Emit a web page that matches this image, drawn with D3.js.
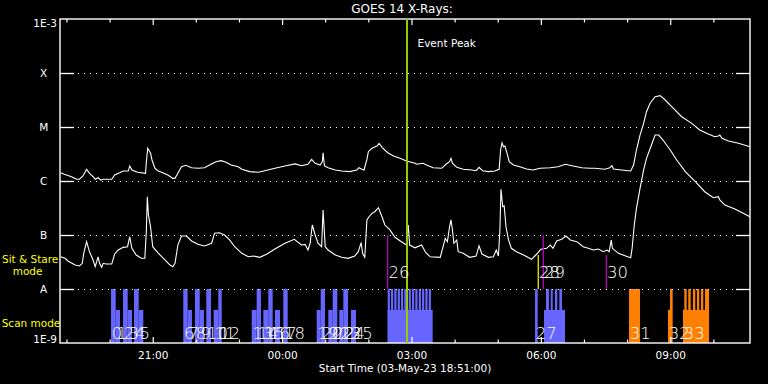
<!DOCTYPE html>
<html><head><meta charset="utf-8">
<script src="https://cdn.jsdelivr.net/npm/d3@7"></script>
<style>
body{margin:0;background:#000;}
svg{display:block;background:#000;}
text{font-family:"DejaVu Sans",sans-serif;}
</style>
</head><body>
<svg id="c" width="768" height="384"></svg>
<script>
// ---------------- DATA ----------------
const startTime = "2023-05-03T18:51:00Z";
const durationMin = 960;
const titleText = "GOES 14 X-Rays:";
const xTitle = "Start Time (03-May-23 18:51:00)";
const levelValues = [1e-9, 1e-8, 1e-7, 1e-6, 1e-5, 1e-4, 1e-3];
const levelLabels = ["1E-9", "A", "B", "C", "M", "X", "1E-3"];
const tickLabels = ["21:00", "00:00", "03:00", "06:00", "09:00"];

// Long channel (1-8 A), minutes after start / flux W m^-2
const longTime = [1,6,16,23,27,32,37,41,46,49,53,57,60,64,72,76,83,88,95,97,100,108,119,120,122,126,128,132,136,143,150,157,160,164,169,175,183,192,201,210,217,224,231,238,248,253,264,276,285,299,313,327,336,345,350,355,362,365,366,368,373,383,392,403,413,416,420,423,427,429,434,441,444,448,456,464,473,482,494,496,505,510,519,531,537,542,544,546,552,561,573,579,583,588,596,605,611,613,615,617,619,622,625,631,640,649,658,668,682,693,703,714,726,737,744,758,765,768,770,781,794,798,802,807,812,816,821,828,835,842,851,865,879,890,902,911,916,918,921,930,944,960];
const longFlux = [1.42e-6,1.33e-6,1.20e-6,1.08e-6,1.08e-6,1.24e-6,1.65e-6,1.39e-6,1.20e-6,1.08e-6,1.15e-6,1.04e-6,1.08e-6,1.08e-6,1.08e-6,1.29e-6,1.42e-6,1.53e-6,1.53e-6,1.90e-6,1.60e-6,1.45e-6,1.39e-6,2.13e-6,4.03e-6,3.26e-6,2.45e-6,1.72e-6,1.55e-6,1.42e-6,1.29e-6,1.12e-6,1.12e-6,1.39e-6,1.84e-6,1.95e-6,1.76e-6,1.72e-6,1.76e-6,2.04e-6,2.28e-6,2.38e-6,2.22e-6,1.98e-6,1.84e-6,1.65e-6,1.49e-6,1.45e-6,1.55e-6,1.72e-6,1.90e-6,2.07e-6,1.92e-6,2.04e-6,2.52e-6,2.13e-6,1.98e-6,2.28e-6,3.34e-6,1.90e-6,1.76e-6,1.60e-6,1.53e-6,1.49e-6,1.60e-6,1.76e-6,1.65e-6,1.60e-6,2.52e-6,3.49e-6,4.03e-6,4.45e-6,4.99e-6,4.21e-6,3.34e-6,2.90e-6,2.63e-6,2.35e-6,2.13e-6,2.04e-6,2.13e-6,1.98e-6,1.76e-6,1.72e-6,2.04e-6,2.28e-6,2.63e-6,2.13e-6,1.79e-6,1.65e-6,1.60e-6,1.55e-6,1.79e-6,1.55e-6,1.49e-6,1.53e-6,1.65e-6,3.75e-6,5.12e-6,4.31e-6,4.45e-6,3.26e-6,2.28e-6,1.98e-6,1.84e-6,1.67e-6,1.60e-6,1.72e-6,1.76e-6,1.84e-6,2.04e-6,1.90e-6,1.76e-6,1.72e-6,1.72e-6,1.65e-6,1.76e-6,1.92e-6,1.67e-6,1.60e-6,1.53e-6,1.98e-6,3.75e-6,7.10e-6,1.17e-5,1.92e-5,2.75e-5,3.64e-5,3.80e-5,3.16e-5,2.38e-5,1.55e-5,1.17e-5,8.81e-6,7.42e-6,6.61e-6,6.81e-6,7.10e-6,6.16e-6,5.50e-6,4.99e-6,4.31e-6];

// Short channel (0.5-4 A)
const shortTime = [1,7,11,21,27,31,33,37,41,46,49,53,55,58,60,64,72,76,81,88,94,97,100,106,113,118,120,121.5,123,126,129,136,146,153,157,160,164,169,176,183,192,201,211,215,222,229,236,243,253,262,269,278,288,299,313,326,336,341,345,348,351,355,359,364,366,369,373,383,392,401,410,415,419,421,424,427,430,434,438,443,448,452,459,466,475,482,484.5,486.5,494,503,509,515,529,533,536,539,542,544,546,548,552,554,561,570,579,583,587,596,603,607,610,612,613.5,616,618,620.5,624,628,635,645,656,662,669,677,682,686,691,698,704,710,719,728,735,742,749,756,761,764,767,768.5,777,786,794,796,799,802,807,812,816,822,828,833,839,849,858,870,884,897,909,916,918,925,939,958,960];
const shortFlux = [3.95e-8,3.70e-8,3.30e-8,2.78e-8,2.67e-8,2.99e-8,4.58e-8,7.52e-8,4.91e-8,3.45e-8,2.59e-8,3.95e-8,2.99e-8,2.52e-8,2.99e-8,2.90e-8,2.90e-8,4.45e-8,5.27e-8,5.91e-8,6.07e-8,9.29e-8,5.67e-8,4.26e-8,3.70e-8,3.70e-8,1.08e-7,5.12e-7,2.35e-7,1.42e-7,6.07e-8,4.70e-8,3.45e-8,2.78e-8,2.59e-8,2.99e-8,6.52e-8,9.58e-8,9.58e-8,7.74e-8,6.71e-8,6.25e-8,7.03e-8,1.08e-7,1.10e-7,1.00e-7,8.09e-8,6.07e-8,4.58e-8,3.95e-8,4.08e-8,3.86e-8,4.45e-8,5.50e-8,7.03e-8,8.33e-8,6.52e-8,6.71e-8,5.27e-8,7.03e-8,1.53e-7,1.00e-7,7.03e-8,6.07e-8,2.90e-7,6.07e-8,5.27e-8,4.26e-8,3.86e-8,3.70e-8,4.08e-8,4.91e-8,7.22e-8,4.58e-8,3.86e-8,1.90e-7,2.18e-7,2.52e-7,2.70e-7,3.20e-7,2.18e-7,1.53e-7,1.24e-7,9.06e-8,7.52e-8,6.52e-8,1.53e-7,6.52e-8,5.80e-8,6.52e-8,4.70e-8,3.95e-8,3.86e-8,6.07e-8,8.68e-8,7.52e-8,1.42e-7,1.90e-7,1.24e-7,7.03e-8,8.09e-8,4.91e-8,4.58e-8,3.86e-8,4.08e-8,6.33e-8,4.45e-8,3.86e-8,3.95e-8,5.27e-8,4.08e-8,1.24e-7,7.03e-7,3.34e-7,3.45e-7,1.42e-7,8.09e-8,5.67e-8,4.91e-8,4.26e-8,3.55e-8,4.26e-8,5.44e-8,5.67e-8,6.52e-8,5.67e-8,7.74e-8,8.33e-8,9.58e-8,8.09e-8,7.52e-8,6.07e-8,5.67e-8,5.27e-8,5.50e-8,4.91e-8,5.27e-8,4.91e-8,8.09e-8,5.67e-8,4.58e-8,4.14e-8,3.80e-8,5.67e-8,1.53e-7,3.12e-7,7.33e-7,1.60e-6,2.63e-6,4.31e-6,7.10e-6,7.10e-6,5.74e-6,3.75e-6,2.45e-6,1.49e-6,9.70e-7,6.33e-7,4.91e-7,5.12e-7,4.45e-7,3.59e-7,3.03e-7,2.25e-7,2.16e-7];

// Scan-mode observation bars: start/end minutes, top (flux level), set (0 = first block, 1 = second)
const scanStart = [71.0,77.5,87.7,94.2,103.0,109.5, 171.5,177.6,187.8,194.4,203.5,213.8,220.2, 266.7,273.6,282.9,289.8,299.1,310.7, 357.1,362.7,373.3,379.4,388.6,394.2,404.9,
  455.9,455.9,460.5,465.1,469.8,474.4,479.0,485.1,489.7,494.3,499.1,503.7,508.3,513.0,
  660.9,673.4,676.2,682.7,688.7,694.7,
  791.7,845.9,848.7,866.8,868.6,874.1,880.7,886.2,891.8,897.4];
const scanEnd = [77.5,83.5,94.2,100.2,109.5,115.9, 177.6,183.6,194.4,200.3,210.1,220.2,225.0, 273.6,279.6,289.8,295.9,306.1,316.8, 362.7,368.7,379.4,385.8,394.2,400.7,411.8,
  518.5,459.0,463.6,468.2,472.9,477.5,482.1,488.2,492.8,497.4,502.2,506.8,511.4,516.1,
  664.6,702.6,680.3,685.5,691.9,698.4,
  807.0,848.7,852.4,903.0,871.9,877.5,883.9,889.4,895.0,903.0];
const scanTop = [1e-8,4.1e-9,1e-8,4.1e-9,1e-8,4.1e-9, 1e-8,4.1e-9,1e-8,4.1e-9,1e-8,4.1e-9,1e-8, 4.1e-9,1e-8,4.1e-9,1e-8,4.1e-9,1e-8, 4.1e-9,1e-8,4.1e-9,1e-8,4.1e-9,1e-8,4.1e-9,
  4.1e-9,1e-8,1e-8,1e-8,1e-8,1e-8,1e-8,1e-8,1e-8,1e-8,1e-8,1e-8,1e-8,1e-8,
  1e-8,4.1e-9,1e-8,1e-8,1e-8,1e-8,
  1e-8,4.1e-9,1e-8,4.1e-9,1e-8,1e-8,1e-8,1e-8,1e-8,1e-8];
const scanSet = [0,0,0,0,0,0, 0,0,0,0,0,0,0, 0,0,0,0,0,0, 0,0,0,0,0,0,0,
  0,0,0,0,0,0,0,0,0,0,0,0,0,0,
  0,0,0,0,0,0,
  1,1,1,1,1,1,1,1,1,1];

// Scan observation numbers and their start minutes
const scanNum = ["0","1","2","3","4","5","6","7","8","9","10","11","12","13","14","15","16","17","18","19","20","21","22","23","24","25","27","31","32","33"];
const scanNumTime = [71.0,77.5,87.7,94.2,103.0,109.5,171.5,177.6,187.8,194.4,203.5,213.8,220.2,266.7,273.6,282.9,289.8,299.1,310.7,357.1,362.7,373.3,379.4,388.6,394.2,404.9,660.9,791.7,845.9,866.8];

// Sit & Stare observations
const ssNum = ["26","28","29","30"];
const ssTime = [455.9,665.4,672.4,760.1];
const ssTop = [1e-7,4.26e-8,1e-7,4.26e-8];
const ssKind = [0,1,0,0];

const eventPeakTime = 482.8;
const eventPeakLabel = "Event Peak";

// ---------------- CHART ----------------
const svg = d3.select("#c");
const L = 60, R = 750, T = 19, B = 343;
const t0 = new Date(startTime);
const tm = m => new Date(t0.getTime() + m * 60000);
const x = d3.scaleUtc().domain([t0, tm(durationMin)]).range([L, R]);
const y = d3.scaleLog().domain([1e-9, 1e-3]).range([B, T]);
const scanColor = ["#6666ff", "#ff8000"];
const ssColor = ["#cc00cc", "#ffff00"];

// scan bars
svg.append("g").selectAll("rect").data(scanStart.map((s, i) => i)).join("rect")
  .attr("x", i => x(tm(scanStart[i])))
  .attr("width", i => x(tm(scanEnd[i])) - x(tm(scanStart[i])))
  .attr("y", i => y(scanTop[i]))
  .attr("height", i => B - y(scanTop[i]))
  .attr("fill", i => scanColor[scanSet[i]]);

// dotted level lines
const inner = levelValues.slice(1, -1);
svg.append("g").selectAll("line").data(inner).join("line")
  .attr("x1", L + 18).attr("x2", R - 15)
  .attr("y1", d => Math.round(y(d)) + 0.5).attr("y2", d => Math.round(y(d)) + 0.5)
  .attr("stroke", "#fff").attr("stroke-width", 1).attr("stroke-dasharray", "1 5");

// curves
const line = d3.line().x(d => x(tm(d[0]))).y(d => y(d[1]));
svg.append("path").datum(longTime.map((t, i) => [t, longFlux[i]]))
  .attr("d", line).attr("fill", "none").attr("stroke", "#fff").attr("stroke-width", 1.1);
svg.append("path").datum(shortTime.map((t, i) => [t, shortFlux[i]]))
  .attr("d", line).attr("fill", "none").attr("stroke", "#fff").attr("stroke-width", 1.1);

// sit & stare lines
svg.append("g").selectAll("line").data(ssNum.map((d, i) => i)).join("line")
  .attr("x1", i => x(tm(ssTime[i]))).attr("x2", i => x(tm(ssTime[i])))
  .attr("y1", i => y(ssTop[i])).attr("y2", y(1e-8))
  .attr("stroke", i => ssColor[ssKind[i]]).attr("stroke-width", 1.2);

// axes: left and right ticks
const yl = d3.axisLeft(y).tickValues(inner).tickSize(-14).tickFormat("");
svg.append("g").attr("transform", `translate(${L},0)`).call(yl)
  .call(g => g.select(".domain").remove())
  .call(g => g.selectAll("line").attr("stroke", "#fff").attr("stroke-width", 1.3));
const yr = d3.axisRight(y).tickValues(inner).tickSize(-14).tickFormat("");
svg.append("g").attr("transform", `translate(${R},0)`).call(yr)
  .call(g => g.select(".domain").remove())
  .call(g => g.selectAll("line").attr("stroke", "#fff").attr("stroke-width", 1.3));

// time ticks
const hourTicks = x.ticks(d3.utcHour.every(1));
const majorTicks = x.ticks(d3.utcHour.every(3));
const minorTicks = hourTicks.filter(h => h.getUTCHours() % 3 !== 0);
function tickAxes(axisFn, yPos) {
  svg.append("g").attr("transform", `translate(0,${yPos})`)
    .call(axisFn(x).tickValues(minorTicks).tickSize(-3.5).tickFormat(""))
    .call(g => g.select(".domain").remove())
    .call(g => g.selectAll("line").attr("stroke", "#fff").attr("stroke-width", 1.2));
}
tickAxes(d3.axisBottom, B);
tickAxes(d3.axisTop, T);
svg.append("g").attr("transform", `translate(0,${B})`)
  .call(d3.axisBottom(x).tickValues(majorTicks).tickSize(-6).tickPadding(8.8)
    .tickFormat((d, i) => tickLabels[i]))
  .call(g => g.select(".domain").remove())
  .call(g => g.selectAll("line").attr("stroke", "#fff").attr("stroke-width", 1.2))
  .call(g => g.selectAll("text").attr("fill", "#fff").style("font-size", "10.5px")
    .style("font-family", "DejaVu Sans"));
svg.append("g").attr("transform", `translate(0,${T})`)
  .call(d3.axisTop(x).tickValues(majorTicks).tickSize(-6).tickFormat(""))
  .call(g => g.select(".domain").remove())
  .call(g => g.selectAll("line").attr("stroke", "#fff").attr("stroke-width", 1.2));

// frame
svg.append("rect").attr("x", L).attr("y", T).attr("width", R - L).attr("height", B - T)
  .attr("fill", "none").attr("stroke", "#fff").attr("stroke-width", 1.4);

// event peak
const xp = x(tm(eventPeakTime));
svg.append("line").attr("x1", xp).attr("x2", xp).attr("y1", T).attr("y2", B)
  .attr("stroke", "#99cc00").attr("stroke-width", 2);
svg.append("text").attr("x", xp + 10.5).attr("y", 46.7).text(eventPeakLabel)
  .attr("fill", "#fff").style("font-size", "10.5px");

// level labels
svg.append("g").selectAll("text").data(levelValues).join("text")
  .attr("x", (d, i) => (i === 0 || i === levelValues.length - 1) ? 57 : 43.7)
  .attr("y", (d, i) => i === 0 ? y(d) : i === levelValues.length - 1 ? y(d) + 7.7 : y(d) + 4)
  .attr("text-anchor", (d, i) => (i === 0 || i === levelValues.length - 1) ? "end" : "middle")
  .attr("fill", "#fff").style("font-size", "10.5px")
  .text((d, i) => levelLabels[i]);

// mode labels
const yellowTxt = [["Sit & Stare", 2, 263.3], ["mode", 12.7, 275], ["Scan mode", 1.7, 327.3]];
svg.append("g").selectAll("text").data(yellowTxt).join("text")
  .attr("x", d => d[1]).attr("y", d => d[2]).text(d => d[0])
  .attr("fill", "#ffff00").style("font-size", "10.5px");

// observation numbers
svg.append("g").selectAll("text").data(scanNum).join("text")
  .attr("x", (d, i) => x(tm(scanNumTime[i])) + 0.8).attr("y", 339.3)
  .text(d => d).attr("fill", "#fff").style("font-size", "16.5px").style("font-weight", 200);
svg.append("g").selectAll("text").data(ssNum).join("text")
  .attr("x", (d, i) => x(tm(ssTime[i])) + 0.8).attr("y", 278.3)
  .text(d => d).attr("fill", "#fff").style("font-size", "16.5px").style("font-weight", 200);

// titles
svg.append("text").attr("x", 402).attr("y", 13.3).attr("text-anchor", "middle")
  .text(titleText).attr("fill", "#fff").style("font-size", "12px");
svg.append("text").attr("x", 405).attr("y", 371.7).attr("text-anchor", "middle")
  .text(xTitle).attr("fill", "#fff").style("font-size", "10.5px");
</script>
</body></html>
